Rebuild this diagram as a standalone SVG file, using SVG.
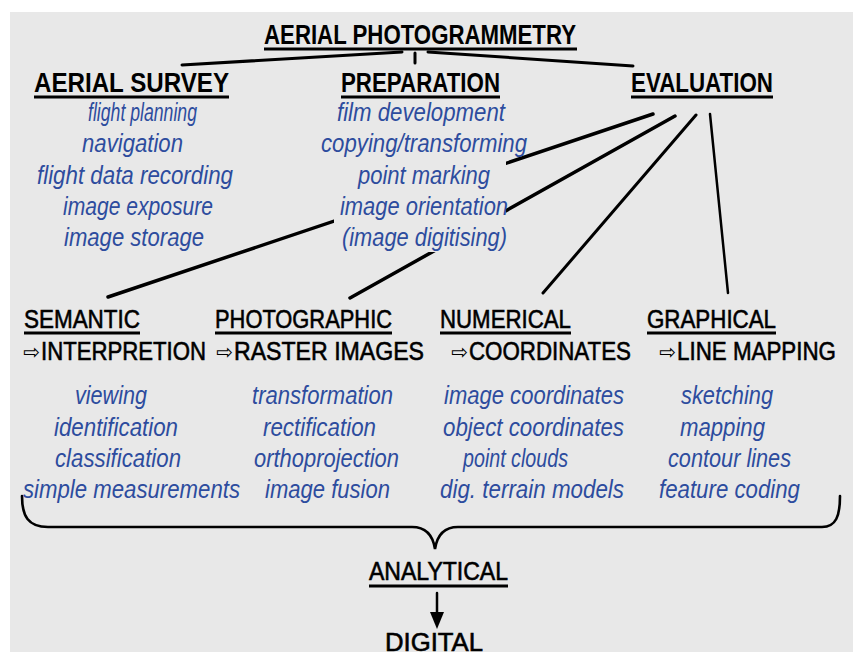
<svg xmlns="http://www.w3.org/2000/svg" width="853" height="652" viewBox="0 0 853 652">
<style>
.h{font-family:"Liberation Sans","Arial",sans-serif;font-weight:bold;font-size:27px;fill:#000}
.h3{font-family:"Liberation Sans","Arial",sans-serif;font-size:26px;fill:#000;stroke:#000;stroke-width:0.6}
.ar{font-family:"DejaVu Sans",sans-serif;font-size:20px;fill:#000}
.b{font-family:"Liberation Sans","Arial",sans-serif;font-style:italic;font-size:25px;fill:#2d4c9e}
.ul{stroke:#000;stroke-width:3;fill:none}
.c{stroke:#000;stroke-linecap:round;fill:none}
</style>
<rect x="0" y="0" width="853" height="652" fill="#fff"/>
<rect x="10" y="12" width="843" height="640" fill="#e8e8e8"/>

<g id="connectors">
<path class="c" d="M182,65 L402,52" stroke-width="3"/>
<path class="c" d="M415,53 L415,63" stroke-width="3"/>
<path class="c" d="M428,52 L633,66" stroke-width="3"/>
<path class="c" d="M653,114 L108,297" stroke-width="3.5"/>
<path class="c" d="M675,116 L350,298" stroke-width="3.5"/>
<path class="c" d="M696,115 L543,293" stroke-width="3"/>
<path class="c" d="M710,114 L728,293" stroke-width="2.5"/>
<path class="c" d="M22,496 C22,516 28,527 48,527 L412,527 C427,527 433,536 435,549 C437,536 443,527 458,527 L822,527 C836,527 840,516 840,496" stroke-width="2.6"/>
<path class="c" d="M437,593 L437,614" stroke-width="2.5"/>
<path d="M430,612 L444,612 L437,629 z" fill="#000"/>
</g>

<g id="title">
<text class="h" x="264" y="44" textLength="312" lengthAdjust="spacingAndGlyphs">AERIAL PHOTOGRAMMETRY</text>
<line class="ul" x1="264" y1="49" x2="577" y2="49"/>
</g>

<g id="aerial-survey">
<text class="h" x="34" y="92" textLength="195" lengthAdjust="spacingAndGlyphs">AERIAL SURVEY</text>
<line class="ul" x1="34" y1="97" x2="229" y2="97"/>
<text class="b" x="88" y="121" textLength="109" lengthAdjust="spacingAndGlyphs">flight planning</text>
<text class="b" x="82" y="152" textLength="101" lengthAdjust="spacingAndGlyphs">navigation</text>
<text class="b" x="37" y="184" textLength="196" lengthAdjust="spacingAndGlyphs">flight data recording</text>
<text class="b" x="63" y="215" textLength="150" lengthAdjust="spacingAndGlyphs">image exposure</text>
<text class="b" x="64" y="246" textLength="140" lengthAdjust="spacingAndGlyphs">image storage</text>
</g>

<g id="preparation">
<rect x="334" y="101" width="172" height="151" fill="#e8e8e8"/>
<text class="h" x="341" y="92" textLength="159" lengthAdjust="spacingAndGlyphs">PREPARATION</text>
<line class="ul" x1="341" y1="97" x2="500" y2="97"/>
<text class="b" x="337" y="121" textLength="168" lengthAdjust="spacingAndGlyphs">film development</text>
<text class="b" x="321" y="152" textLength="206" lengthAdjust="spacingAndGlyphs">copying/transforming</text>
<text class="b" x="358" y="184" textLength="132" lengthAdjust="spacingAndGlyphs">point marking</text>
<text class="b" x="340" y="215" textLength="168" lengthAdjust="spacingAndGlyphs">image orientation</text>
<text class="b" x="342" y="246" textLength="165" lengthAdjust="spacingAndGlyphs">(image digitising)</text>
</g>

<g id="evaluation">
<text class="h" x="631" y="92" textLength="142" lengthAdjust="spacingAndGlyphs">EVALUATION</text>
<line class="ul" x1="631" y1="97" x2="773" y2="97"/>
</g>

<g id="semantic">
<text class="h3" x="24" y="328" textLength="116" lengthAdjust="spacingAndGlyphs">SEMANTIC</text>
<line class="ul" x1="24" y1="333" x2="140" y2="333"/>
<text class="ar" x="23" y="359">⇨</text>
<text class="h3" x="41" y="360" textLength="165" lengthAdjust="spacingAndGlyphs">INTERPRETION</text>
<text class="b" x="75" y="404" textLength="72" lengthAdjust="spacingAndGlyphs">viewing</text>
<text class="b" x="54" y="436" textLength="124" lengthAdjust="spacingAndGlyphs">identification</text>
<text class="b" x="55" y="467" textLength="126" lengthAdjust="spacingAndGlyphs">classification</text>
<text class="b" x="23" y="498" textLength="217" lengthAdjust="spacingAndGlyphs">simple measurements</text>
</g>

<g id="photographic">
<text class="h3" x="215" y="328" textLength="177" lengthAdjust="spacingAndGlyphs">PHOTOGRAPHIC</text>
<line class="ul" x1="215" y1="333" x2="392" y2="333"/>
<text class="ar" x="216" y="359">⇨</text>
<text class="h3" x="234" y="360" textLength="190" lengthAdjust="spacingAndGlyphs">RASTER IMAGES</text>
<text class="b" x="252" y="404" textLength="141" lengthAdjust="spacingAndGlyphs">transformation</text>
<text class="b" x="263" y="436" textLength="113" lengthAdjust="spacingAndGlyphs">rectification</text>
<text class="b" x="254" y="467" textLength="145" lengthAdjust="spacingAndGlyphs">orthoprojection</text>
<text class="b" x="265" y="498" textLength="125" lengthAdjust="spacingAndGlyphs">image fusion</text>
</g>

<g id="numerical">
<text class="h3" x="440" y="328" textLength="131" lengthAdjust="spacingAndGlyphs">NUMERICAL</text>
<line class="ul" x1="440" y1="333" x2="571" y2="333"/>
<text class="ar" x="451" y="359">⇨</text>
<text class="h3" x="469" y="360" textLength="162" lengthAdjust="spacingAndGlyphs">COORDINATES</text>
<text class="b" x="444" y="404" textLength="180" lengthAdjust="spacingAndGlyphs">image coordinates</text>
<text class="b" x="443" y="436" textLength="181" lengthAdjust="spacingAndGlyphs">object coordinates</text>
<text class="b" x="463" y="467" textLength="105" lengthAdjust="spacingAndGlyphs">point clouds</text>
<text class="b" x="440" y="498" textLength="184" lengthAdjust="spacingAndGlyphs">dig. terrain models</text>
</g>

<g id="graphical">
<text class="h3" x="647" y="328" textLength="129" lengthAdjust="spacingAndGlyphs">GRAPHICAL</text>
<line class="ul" x1="647" y1="333" x2="776" y2="333"/>
<text class="ar" x="659" y="359">⇨</text>
<text class="h3" x="677" y="360" textLength="159" lengthAdjust="spacingAndGlyphs">LINE MAPPING</text>
<text class="b" x="681" y="404" textLength="92" lengthAdjust="spacingAndGlyphs">sketching</text>
<text class="b" x="680" y="436" textLength="85" lengthAdjust="spacingAndGlyphs">mapping</text>
<text class="b" x="668" y="467" textLength="123" lengthAdjust="spacingAndGlyphs">contour lines</text>
<text class="b" x="659" y="498" textLength="141" lengthAdjust="spacingAndGlyphs">feature coding</text>
</g>

<g id="analytical">
<text class="h3" x="369" y="580" textLength="139" lengthAdjust="spacingAndGlyphs">ANALYTICAL</text>
<line class="ul" x1="369" y1="586" x2="508" y2="586"/>
</g>

<g id="digital">
<text class="h3" x="385" y="651" textLength="98" lengthAdjust="spacingAndGlyphs">DIGITAL</text>
</g>
</svg>
